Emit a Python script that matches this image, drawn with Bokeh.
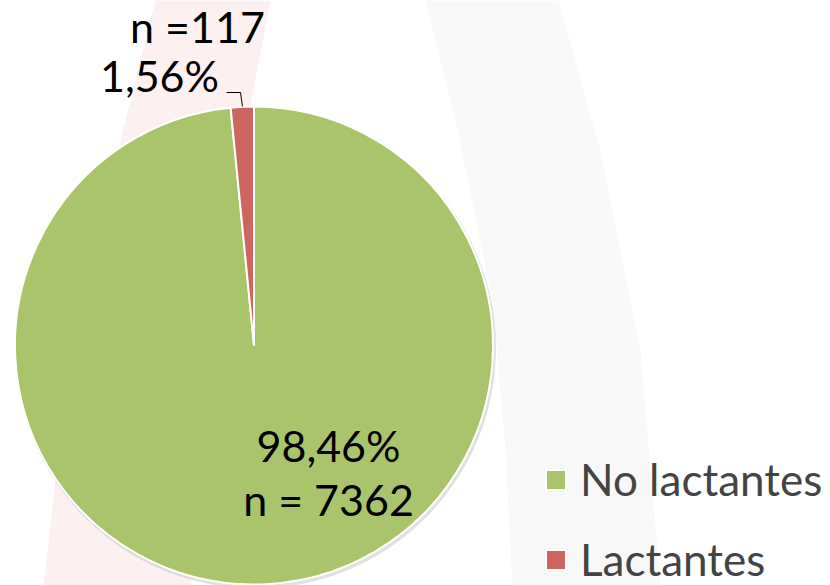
import math
from bokeh.plotting import figure
from bokeh.models import Range1d, ColumnDataSource, Legend, LegendItem
from bokeh.core.properties import value
from bokeh.embed import file_html
from bokeh.resources import INLINE

# ---- data ----
categories = ["No lactantes", "Lactantes"]
percentages = [98.46, 1.56]
counts = [7362, 117]
pct_labels = ["98,46%", "1,56%"]
n_labels = ["n = 7362", "n =117"]
colors = ["#aac46c", "#cd6661"]

FONT = "Lato"
W, H = 830, 585


def Y(sy):
    # screen y (px from top) -> data y
    return H - sy


p = figure(width=W, height=H, x_range=Range1d(0, W), y_range=Range1d(0, H),
           output_backend="svg", toolbar_location=None, min_border=0)
p.axis.visible = False
p.grid.visible = False
p.outline_line_color = None
p.background_fill_color = "white"
p.border_fill_color = "white"

# ---- faint decorative background arch ----
pink_x = [155, 120, 80, 55, 43, 190, 250, 270]
pink_y = [0, 140, 330, 480, 585, 585, 105, 0]
gray_x = [425, 455, 492, 505, 512, 660, 640, 600, 558]
gray_y = [0, 120, 300, 450, 585, 585, 350, 150, 0]
p.patch(pink_x, [Y(v) for v in pink_y], fill_color="#fcf0f1", line_color=None)
p.patch(gray_x, [Y(v) for v in gray_y], fill_color="#f8f8f8", line_color=None)

# ---- pie ----
cx, cy, r = 253.5, Y(345), 239
total = sum(percentages)
starts, ends = [], []
a = 90.0
for v in percentages:
    starts.append(math.radians(a))
    a -= v / total * 360.0
    ends.append(math.radians(a))

src = ColumnDataSource(dict(cat=categories, start=starts, end=ends, color=colors))

# soft shadow
p.circle(x=[cx + 1.5], y=[cy - 2.5], radius=r + 1.5, fill_color="#c8c8c8",
         fill_alpha=0.55, line_color=None)

wedges = p.wedge(x=cx, y=cy, radius=r, start_angle="start", end_angle="end",
                 direction="clock", fill_color="color", line_color="white",
                 line_width=2, source=src)

# ---- data labels ----
p.text(x=[328, 328], y=[Y(445), Y(499)], text=[pct_labels[0], n_labels[0]],
       text_font=value(FONT), text_font_size="43px", text_color="black",
       text_align="center", text_baseline="alphabetic")
p.text(x=[197, 159], y=[Y(26), Y(75)], text=[n_labels[1], pct_labels[1]],
       text_font=value(FONT), text_font_size="43px", text_color="black",
       text_align="center", text_baseline="alphabetic")
# leader line
p.line(x=[226, 240, 242], y=[Y(92), Y(92), Y(106)], line_color="black", line_width=1)

# ---- legend ----
legend = Legend(items=[LegendItem(label=categories[i], renderers=[wedges], index=i)
                       for i in range(len(categories))],
                location=(543, 0), orientation="vertical",
                label_text_font=FONT, label_text_font_size="44px",
                glyph_width=25, glyph_height=25, label_standoff=12,
                spacing=28, padding=0, margin=0,
                border_line_color=None, background_fill_alpha=0)
p.add_layout(legend, "center")

open("out.html", "w").write(file_html(p, INLINE))
